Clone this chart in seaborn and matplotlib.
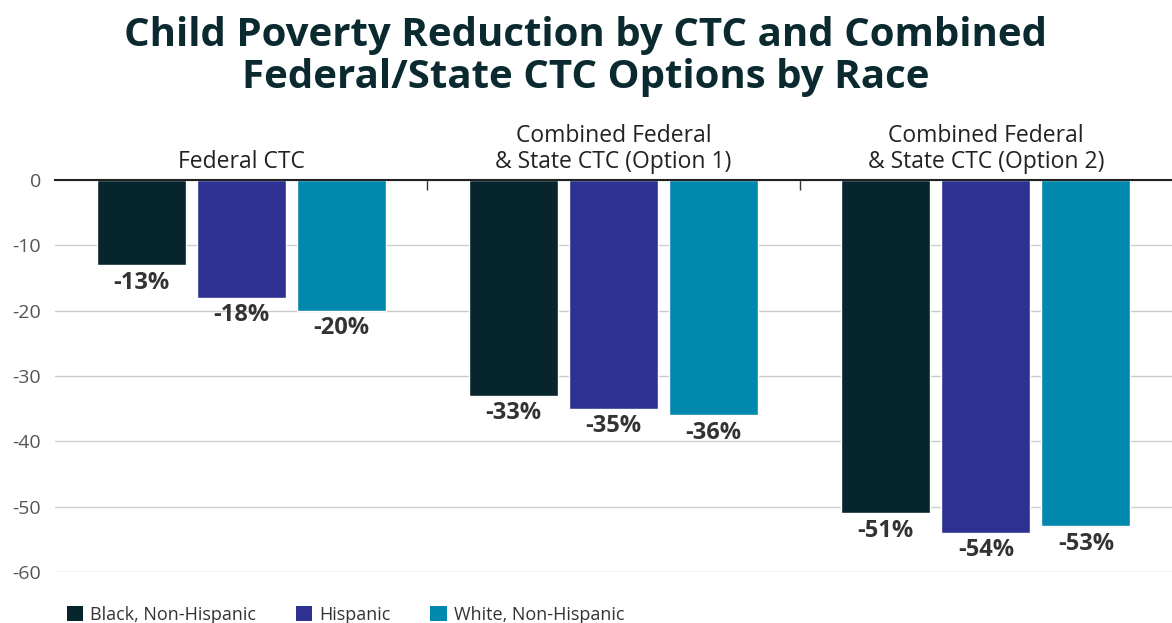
import numpy as np
import pandas as pd
import matplotlib
matplotlib.use("Agg")
import matplotlib.pyplot as plt
from matplotlib.patches import Patch
import seaborn as sns

sns.set_theme(style="white")
plt.rcParams["font.family"] = ["Open Sans", "DejaVu Sans"]

# data
options = ["Federal CTC",
           "Combined Federal\n& State CTC (Option 1)",
           "Combined Federal\n& State CTC (Option 2)"]
races = ["Black, Non-Hispanic", "Hispanic", "White, Non-Hispanic"]
black = [-13, -33, -51]
hispanic = [-18, -35, -54]
white = [-20, -36, -53]
colors = ["#06252C", "#2E3192", "#0088AD"]
yticks = [0, -10, -20, -30, -40, -50, -60]

df = pd.DataFrame({
    "option": options * 3,
    "race": [races[0]] * 3 + [races[1]] * 3 + [races[2]] * 3,
    "value": black + hispanic + white,
})

fig = plt.figure(figsize=(11.72, 6.23), dpi=100)
ax = fig.add_axes([0.047, 0.082, 0.953, 0.629])

sns.barplot(data=df, x="option", y="value", hue="race", palette=colors,
            width=0.806, gap=0.11, ax=ax, legend=False, saturation=1)

for cont in ax.containers:
    ax.bar_label(cont, labels=["{}%".format(int(v)) for v in cont.datavalues],
                 padding=4, fontsize=17, fontweight="bold", color="#333333")

ax.set_ylim(-60, 0)
ax.set_xlim(-0.5, 2.5)
ax.set_yticks(yticks)
ax.set_yticklabels([str(t) for t in yticks], fontsize=14, color="#555555")
ax.yaxis.grid(True, color="#cccccc", linewidth=1)
ax.set_axisbelow(True)
ax.tick_params(axis="y", length=0, pad=10)

ax.xaxis.tick_top()
ax.set_xticks([0, 1, 2])
ax.set_xticklabels(options, fontsize=16.5, color="#222222", fontweight="normal",
                   linespacing=1.15)
ax.tick_params(axis="x", which="major", length=0, pad=4)
ax.set_xticks([0.5, 1.5], minor=True)
ax.tick_params(axis="x", which="minor", top=True, direction="in", length=7,
               width=1, color="#333333")
ax.set_xlabel("")
ax.set_ylabel("")

for side in ["left", "right", "bottom"]:
    ax.spines[side].set_visible(False)
ax.spines["top"].set_color("#222222")
ax.spines["top"].set_linewidth(1.5)

fig.suptitle("Child Poverty Reduction by CTC and Combined\nFederal/State CTC Options by Race",
             fontsize=29, fontweight="bold", color="#0A2A30", y=0.975,
             linespacing=1.1)

handles = [Patch(facecolor=c, edgecolor="none") for c in colors]
fig.legend(handles, races, loc="lower left", bbox_to_anchor=(0.043, -0.027),
           ncol=3, frameon=False, fontsize=13, handlelength=0.9,
           handleheight=0.9, handletextpad=0.4, columnspacing=2.2,
           labelcolor="#333333")

fig.savefig("out.png", dpi=100)
